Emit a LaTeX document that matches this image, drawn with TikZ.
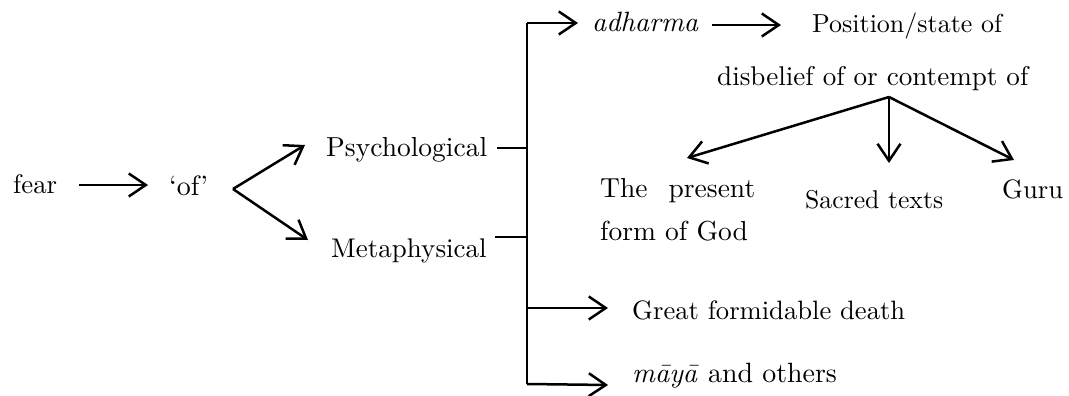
\documentclass[tikz,border=0pt]{standalone}
\usepackage{fontspec}
\setmainfont{lmroman10}[Extension=.otf, UprightFont=*-regular, ItalicFont=*-italic, BoldFont=*-bold]
\usetikzlibrary{arrows.meta}
\begin{document}
\begin{tikzpicture}[x=1pt,y=-1pt,
  lbl/.style={inner sep=0pt, anchor=base west, font=\fontsize{#1}{#1}\selectfont},
  lbl/.default=27,
  arr/.style={line width=2.5pt, -{Straight Barb[length=17pt,width=23pt,line width=2.5pt]}},
  ln/.style={line width=2.5pt}]
\useasboundingbox (0,0) rectangle (1069,396);
% labels
\node[lbl=26.8] (fear) at (13,193) {fear};
\node[lbl=28] (of) at (169,195) {‘of’};
\node[lbl=27.5] (psy) at (326,156) {Psychological};
\node[lbl=27] (meta) at (331,257) {Metaphysical};
\node[lbl=27.9] (adh) at (592,32) {\textit{adharma}};
\node[lbl=26] (pos) at (812,33) {Position/state of};
\node[lbl=27.1] (dis) at (717,85) {disbelief of or contempt of};
\node[lbl=27.5] (god) at (600,197) {\vtop{\baselineskip=43pt\hbox{\makebox[155pt][s]{The present}}\hbox{form of God}}};
\node[lbl=25.7] (sac) at (805,208) {Sacred texts};
\node[lbl=26.6] (guru) at (1002,198) {Guru};
\node[lbl=26.6] (death) at (632,319) {Great formidable death};
\node[lbl=27.9] (maya) at (632,382) {\textit{māyā} and others};
% coordinates
\coordinate (f1) at (79,185);
\coordinate (f2) at (148,185);
\coordinate (v0) at (233,189);
\coordinate (v1) at (305,145);
\coordinate (v2) at (308,240);
\coordinate (p1) at (497,148);
\coordinate (m1) at (495,237);
\coordinate (top) at (527,23);
\coordinate (bot) at (527,384);
\coordinate (adhT) at (578,23);
\coordinate (pm) at (527,148);
\coordinate (mm) at (527,237);
\coordinate (a1) at (712,25);
\coordinate (a2) at (781,25);
\coordinate (src) at (889,97);
\coordinate (t1) at (687,158);
\coordinate (t2) at (889,163);
\coordinate (t3) at (1014,160);
\coordinate (d0) at (527,308);
\coordinate (d1) at (608,308);
\coordinate (mT) at (608,385);
% connectors
\draw[arr] (f1) -- (f2);
\draw[arr] (v0) -- (v1);
\draw[arr] (v0) -- (v2);
\draw[ln] (p1) -- (pm);
\draw[ln] (m1) -- (mm);
\draw[ln] (top) -- (bot);
\draw[arr] (top) -- (adhT);
\draw[arr] (a1) -- (a2);
\draw[arr] (src) -- (t1);
\draw[arr] (src) -- (t2);
\draw[arr] (src) -- (t3);
\draw[arr] (d0) -- (d1);
\draw[arr] (bot) -- (mT);
\end{tikzpicture}
\end{document}
